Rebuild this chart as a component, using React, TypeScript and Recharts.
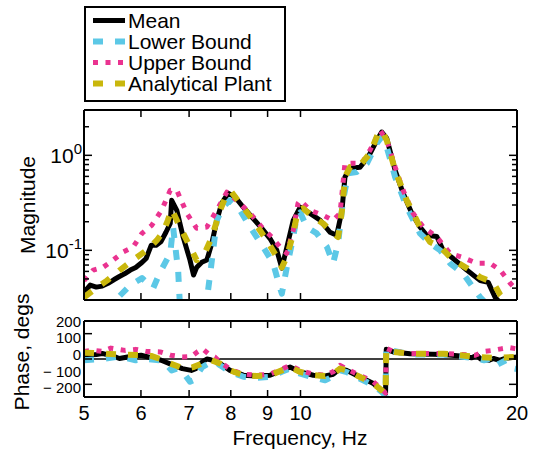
import React from 'react';
import { LineChart, Line, XAxis, YAxis, Legend, ReferenceLine, Label } from 'recharts';

const FONT = '"Liberation Sans", Arial, Helvetica, sans-serif';

// ---------- series meta ----------
const seriesNames = ['Mean', 'Lower Bound', 'Upper Bound', 'Analytical Plant'];
const seriesColors = ['#000000', '#5cc8e6', '#ea3390', '#c9b70c'];
const seriesWidths = [5, 6, 5, 6];
const seriesDashes = ['', '10 12', '5 7.5', '10 12'];

// ---------- ticks ----------
const freqTicks = [5, 6, 7, 8, 9, 10, 20];
const magTicks = [0.03, 0.04, 0.05, 0.06, 0.07, 0.08, 0.09, 0.1, 0.2, 0.3, 0.4, 0.5, 0.6, 0.7, 0.8, 0.9, 1, 2, 3];
const magLabelValues = [0.1, 1];
const magLabelExponents = ['-1', '0'];
const phaseTickMarks = [-100, 0, 100];
const phaseTickLabels = [-200, -100, 0, 100, 200];

// ---------- magnitude data ----------
const magMeanF = [5.0, 5.1, 5.2, 5.3, 5.4, 5.5, 5.6, 5.7, 5.8, 5.9, 6.0, 6.1, 6.2, 6.3, 6.4, 6.5, 6.59, 6.62, 6.73, 6.87, 7.02, 7.1, 7.17, 7.29, 7.41, 7.53, 7.65, 7.77, 7.93, 8.11, 8.32, 8.59, 8.83, 9.07, 9.27, 9.42, 9.57, 9.77, 9.99, 10.31, 10.65, 10.99, 11.23, 11.42, 11.53, 11.72, 12.1, 12.42, 12.77, 12.97, 13.18, 13.54, 13.89, 14.28, 14.66, 14.98, 15.47, 15.79, 16.3, 17.03, 17.78, 18.24, 18.65, 18.95, 20];
const magMeanV = [0.036, 0.043, 0.041, 0.042, 0.045, 0.049, 0.053, 0.057, 0.062, 0.066, 0.073, 0.082, 0.113, 0.113, 0.124, 0.155, 0.192, 0.336, 0.264, 0.137, 0.079, 0.055, 0.066, 0.075, 0.079, 0.119, 0.207, 0.312, 0.398, 0.364, 0.286, 0.217, 0.171, 0.133, 0.1, 0.065, 0.107, 0.207, 0.285, 0.245, 0.207, 0.155, 0.144, 0.264, 0.59, 0.73, 0.748, 0.96, 1.44, 1.76, 1.51, 0.695, 0.398, 0.245, 0.176, 0.144, 0.14, 0.1, 0.082, 0.062, 0.048, 0.046, 0.032, 0.028, 0.026];

const magLowerF = [5.0, 5.26, 5.49, 5.58, 5.8, 6.02, 6.24, 6.38, 6.59, 6.65, 6.76, 6.8, 7.02, 7.37, 7.49, 7.65, 7.8, 7.98, 8.24, 8.51, 8.87, 9.16, 9.37, 9.42, 9.57, 9.77, 9.88, 9.99, 10.2, 10.53, 10.88, 11.1, 11.28, 11.46, 11.65, 11.97, 12.37, 12.77, 12.97, 13.18, 13.54, 14.05, 14.66, 15.14, 15.64, 16.14, 16.83, 17.49, 17.78, 18.35, 20];
const magLowerV = [0.018, 0.024, 0.029, 0.032, 0.043, 0.051, 0.04, 0.059, 0.093, 0.176, 0.06, 0.025, 0.02, 0.022, 0.057, 0.207, 0.286, 0.336, 0.264, 0.176, 0.109, 0.073, 0.04, 0.035, 0.066, 0.138, 0.228, 0.25, 0.176, 0.151, 0.109, 0.073, 0.119, 0.336, 0.647, 0.667, 0.824, 1.34, 1.56, 1.22, 0.59, 0.286, 0.151, 0.119, 0.1, 0.073, 0.057, 0.038, 0.032, 0.025, 0.02];

const magUpperF = [5.0, 5.15, 5.31, 5.49, 5.67, 5.85, 6.02, 6.21, 6.41, 6.59, 6.73, 6.95, 7.17, 7.41, 7.65, 7.9, 8.15, 8.51, 8.83, 9.12, 9.37, 9.57, 9.77, 9.92, 9.99, 10.31, 10.75, 11.1, 11.35, 11.53, 11.83, 12.17, 12.49, 12.9, 13.18, 13.54, 13.89, 14.34, 14.81, 15.47, 16.14, 16.76, 17.59, 18.35, 18.95, 19.57, 20];
const magUpperV = [0.048, 0.062, 0.066, 0.079, 0.096, 0.108, 0.151, 0.183, 0.264, 0.428, 0.428, 0.245, 0.171, 0.176, 0.264, 0.41, 0.336, 0.245, 0.176, 0.138, 0.108, 0.093, 0.162, 0.312, 0.336, 0.264, 0.234, 0.207, 0.245, 0.824, 0.824, 0.824, 1.13, 1.83, 1.44, 0.753, 0.428, 0.245, 0.176, 0.138, 0.093, 0.085, 0.073, 0.073, 0.062, 0.045, 0.038];

const magPlantF = [5.0, 5.15, 5.38, 5.61, 5.85, 6.11, 6.31, 6.44, 6.54, 6.62, 6.8, 7.02, 7.17, 7.32, 7.53, 7.73, 7.9, 8.02, 8.24, 8.59, 8.98, 9.27, 9.42, 9.57, 9.77, 9.92, 10.08, 10.41, 10.75, 11.1, 11.28, 11.42, 11.53, 11.72, 12.1, 12.49, 12.82, 12.97, 13.18, 13.54, 14.05, 14.66, 15.14, 15.64, 16.3, 17.03, 17.78, 18.53, 18.95, 19.36, 20];
const magPlantV = [0.032, 0.038, 0.048, 0.062, 0.079, 0.1, 0.127, 0.156, 0.207, 0.27, 0.176, 0.109, 0.079, 0.085, 0.138, 0.264, 0.398, 0.41, 0.312, 0.207, 0.127, 0.085, 0.066, 0.085, 0.151, 0.264, 0.277, 0.224, 0.192, 0.151, 0.138, 0.264, 0.59, 0.753, 0.785, 1.05, 1.7, 1.83, 1.44, 0.695, 0.336, 0.176, 0.122, 0.109, 0.079, 0.065, 0.052, 0.046, 0.034, 0.028, 0.025];

// ---------- phase data ----------
const phMeanF = [5.0, 5.2, 5.3, 5.5, 5.6, 5.8, 6.0, 6.2, 6.4, 6.6, 6.85, 7.05, 7.15, 7.3, 7.41, 7.5, 7.73, 7.98, 8.33, 8.69, 9.07, 9.42, 9.67, 9.99, 10.42, 10.82, 11.11, 11.35, 11.6, 12.1, 12.63, 12.97, 13.13, 13.16, 13.46, 14.2, 15.8, 16.67, 17.3, 17.59, 17.8, 18.3, 18.55, 18.9, 19.3, 20];
const phMeanV = [15, 18, 22, 10, 2, 10, 15, 5, -5, -20, -38, -45, -38, -12, 0, -3, -18, -45, -64, -67, -64, -45, -32, -51, -64, -67, -60, -38, -45, -71, -97, -124, -137, 38, 28, 21, 18, 12, 5, 15, 0, -5, 2, -5, 3, 8];

const phLowerF = [5.0, 5.3, 5.6, 5.9, 6.1, 6.38, 6.45, 6.62, 6.73, 6.9, 7.02, 7.1, 7.3, 7.45, 7.6, 7.73, 7.98, 8.33, 8.69, 9.07, 9.42, 9.67, 9.99, 10.42, 10.82, 11.11, 11.35, 11.6, 12.1, 12.63, 12.97, 13.13, 13.16, 13.46, 14.2, 15.8, 16.67, 17.59, 18.0, 18.3, 18.6, 18.9, 19.3, 19.6, 20];
const phLowerV = [-5, 0, 10, -5, 0, -5, -10, -45, -38, -60, -90, -84, -32, -18, -8, -25, -50, -70, -74, -71, -50, -38, -58, -72, -84, -68, -45, -52, -78, -104, -130, -145, 45, 32, 18, 18, 10, 2, -5, 0, -30, -18, -5, -35, -40];

const phUpperF = [5.0, 5.15, 5.3, 5.45, 5.7, 5.9, 6.1, 6.38, 6.6, 6.85, 7.05, 7.2, 7.3, 7.45, 7.6, 7.73, 7.98, 8.33, 8.69, 9.07, 9.42, 9.67, 9.99, 10.42, 10.82, 11.11, 11.35, 11.6, 12.1, 12.63, 12.97, 13.13, 13.16, 13.46, 14.2, 15.8, 16.67, 17.5, 18.0, 18.5, 19.0, 19.5, 20];
const phUpperV = [30, 34, 30, 43, 34, 38, 30, 28, 15, 8, 10, 30, 41, 20, 8, -12, -40, -60, -64, -60, -40, -25, -45, -60, -64, -50, -25, -40, -65, -90, -118, -135, 42, 30, 22, 22, 18, 15, 30, 34, 40, 45, 40];

const phPlantF = [5.0, 5.3, 5.6, 6.0, 6.2, 6.38, 6.59, 6.8, 6.94, 7.09, 7.29, 7.49, 7.73, 7.98, 8.33, 8.69, 9.07, 9.42, 9.67, 9.99, 10.42, 10.82, 11.11, 11.35, 11.6, 12.1, 12.63, 12.97, 13.13, 13.16, 13.46, 14.2, 15.8, 16.67, 17.59, 18.55, 20];
const phPlantV = [25, 22, 18, 15, 12, 0, -18, -32, -38, -32, -18, -3, -18, -45, -64, -67, -64, -45, -32, -51, -64, -67, -58, -38, -45, -71, -97, -124, -137, 38, 28, 21, 21, 15, 8, 5, 8];

const toRows = (f: number[], v: number[]) => f.map((x, i) => ({ f: x, v: v[i] }));

const magSeries = [
  toRows(magMeanF, magMeanV),
  toRows(magLowerF, magLowerV),
  toRows(magUpperF, magUpperV),
  toRows(magPlantF, magPlantV),
];
const phaseSeries = [
  toRows(phMeanF, phMeanV),
  toRows(phLowerF, phLowerV),
  toRows(phUpperF, phUpperV),
  toRows(phPlantF, phPlantV),
];

const AXIS_LINE = { stroke: '#000', strokeWidth: 2 };

// ---------- custom ticks (inward, MATLAB style) ----------
const FreqTick = (p: any) => {
  const { x, y, payload, side, showLabel } = p;
  const dir = side === 'bottom' ? -1 : 1;
  return (
    <g>
      <line x1={x} x2={x} y1={y} y2={y + dir * 7} stroke="#000" strokeWidth={1.5} />
      {showLabel && (
        <text x={x} y={y + 9} dy="0.71em" textAnchor="middle" fontSize={20} fontFamily={FONT} fill="#000">
          {payload.value}
        </text>
      )}
    </g>
  );
};

const MagTick = (p: any) => {
  const { x, y, payload, side } = p;
  const idx = magLabelValues.findIndex((m) => Math.abs(m - payload.value) < 1e-9);
  const major = idx >= 0;
  const len = major ? 8 : 5;
  const dir = side === 'left' ? 1 : -1;
  return (
    <g>
      <line x1={x} x2={x + dir * len} y1={y} y2={y} stroke="#000" strokeWidth={1.5} />
      {side === 'left' && major && (
        <text x={x - 2} y={y} dy="0.355em" textAnchor="end" fontSize={21} fontFamily={FONT} fill="#000">
          10
          <tspan dy={-9} fontSize={15}>{magLabelExponents[idx]}</tspan>
        </text>
      )}
    </g>
  );
};

const PhaseTick = (p: any) => {
  const { x, y, side } = p;
  const dir = side === 'left' ? 1 : -1;
  return <line x1={x} x2={x + dir * 8} y1={y} y2={y} stroke="#000" strokeWidth={1.5} />;
};

const phaseLabelFormat = (v: number) => (v < 0 ? `\u2212 ${Math.abs(v)}` : `${v}`);

const RotLabel = (text: string, cx: number, cy: number) => () =>
  (
    <text
      x={cx}
      y={cy}
      transform={`rotate(-90 ${cx} ${cy})`}
      textAnchor="middle"
      dominantBaseline="central"
      fontSize={21}
      fontFamily={FONT}
      fill="#000"
    >
      {text}
    </text>
  );

const FreqLabel = () => (
  <text x={300} y={175} textAnchor="middle" fontSize={21} fontFamily={FONT} fill="#000">
    Frequency, Hz
  </text>
);

const LegendBox = () => (
  <div
    style={{
      boxSizing: 'border-box',
      width: 202,
      height: 96,
      border: '2px solid #000',
      background: '#fff',
      paddingTop: 1.5,
    }}
  >
    {seriesNames.map((n, i) => (
      <div key={n} style={{ height: 21, display: 'flex', alignItems: 'center' }}>
        <svg width={42} height={21} style={{ display: 'block', flex: 'none' }}>
          <line
            x1={7}
            x2={39}
            y1={10.5}
            y2={10.5}
            stroke={seriesColors[i]}
            strokeWidth={seriesWidths[i]}
            strokeDasharray={seriesDashes[i] || undefined}
          />
        </svg>
        <span style={{ fontSize: 21, fontFamily: FONT, lineHeight: '21px', color: '#000', whiteSpace: 'nowrap' }}>{n}</span>
      </div>
    ))}
  </div>
);

export default function App() {
  return (
    <div style={{ position: 'absolute', left: 0, top: 0, width: 534, height: 453, background: '#fff', fontFamily: FONT }}>
      <div style={{ position: 'absolute', left: 0, top: 0 }}>
        <LineChart width={534} height={310} margin={{ top: 109, right: 16, bottom: 9, left: 0 }}>
          <XAxis
            xAxisId="b"
            type="number"
            dataKey="f"
            scale="log"
            domain={[5, 20]}
            allowDataOverflow
            ticks={freqTicks}
            interval={0}
            height={1}
            tickLine={false}
            tickSize={0}
            tickMargin={0}
            axisLine={AXIS_LINE}
            tick={(p: any) => <FreqTick {...p} side="bottom" showLabel={false} />}
          />
          <XAxis
            xAxisId="t"
            orientation="top"
            type="number"
            dataKey="f"
            scale="log"
            domain={[5, 20]}
            allowDataOverflow
            ticks={freqTicks}
            interval={0}
            height={1}
            tickLine={false}
            tickSize={0}
            tickMargin={0}
            axisLine={AXIS_LINE}
            tick={(p: any) => <FreqTick {...p} side="top" showLabel={false} />}
          />
          <YAxis
            yAxisId="m"
            type="number"
            scale="log"
            domain={[0.03, 3]}
            allowDataOverflow
            ticks={magTicks}
            interval={0}
            width={84}
            tickLine={false}
            tickSize={0}
            tickMargin={0}
            axisLine={AXIS_LINE}
            tick={(p: any) => <MagTick {...p} side="left" />}
            label={<Label content={RotLabel('Magnitude', 27, 205)} />}
          />
          <YAxis
            yAxisId="mr"
            orientation="right"
            type="number"
            scale="log"
            domain={[0.03, 3]}
            allowDataOverflow
            ticks={magTicks}
            interval={0}
            width={1}
            tickLine={false}
            tickSize={0}
            tickMargin={0}
            axisLine={AXIS_LINE}
            tick={(p: any) => <MagTick {...p} side="right" />}
          />
          <Legend
            layout="vertical"
            align="center"
            verticalAlign="middle"
            wrapperStyle={{ left: 84, top: 6, width: 202, height: 96 }}
            content={() => <LegendBox />}
          />
          {magSeries.map((rows, i) => (
            <Line
              key={seriesNames[i]}
              name={seriesNames[i]}
              data={rows}
              dataKey="v"
              xAxisId="b"
              yAxisId="m"
              type="linear"
              stroke={seriesColors[i]}
              strokeWidth={seriesWidths[i]}
              strokeDasharray={seriesDashes[i] || undefined}
              strokeLinejoin="round"
              dot={false}
              activeDot={false}
              isAnimationActive={false}
            />
          ))}
        </LineChart>
      </div>
      <div style={{ position: 'absolute', left: 0, top: 270 }}>
        <LineChart width={534} height={183} margin={{ top: 50, right: 16, bottom: 0, left: 0 }}>
          <XAxis
            xAxisId="b"
            type="number"
            dataKey="f"
            scale="log"
            domain={[5, 20]}
            allowDataOverflow
            ticks={freqTicks}
            interval={0}
            height={56}
            tickLine={false}
            tickSize={0}
            tickMargin={0}
            axisLine={AXIS_LINE}
            tick={(p: any) => <FreqTick {...p} side="bottom" showLabel />}
            label={<Label content={FreqLabel} />}
          />
          <XAxis
            xAxisId="t"
            orientation="top"
            type="number"
            dataKey="f"
            scale="log"
            domain={[5, 20]}
            allowDataOverflow
            ticks={freqTicks}
            interval={0}
            height={1}
            tickLine={false}
            tickSize={0}
            tickMargin={0}
            axisLine={AXIS_LINE}
            tick={(p: any) => <FreqTick {...p} side="top" showLabel={false} />}
          />
          <YAxis
            yAxisId="p"
            mirror
            type="number"
            domain={[-150, 150]}
            allowDataOverflow
            ticks={phaseTickMarks}
            interval={0}
            width={1}
            tickLine={false}
            tickSize={0}
            tickMargin={0}
            axisLine={AXIS_LINE}
            tick={(p: any) => <PhaseTick {...p} side="left" />}
          />
          <YAxis
            yAxisId="pl"
            type="number"
            domain={[-254, 202]}
            allowDataOverflow
            ticks={phaseTickLabels}
            interval={0}
            width={84}
            tickLine={false}
            axisLine={false}
            tickSize={0}
            tickMargin={3}
            tickFormatter={phaseLabelFormat}
            tick={{ fontSize: 15, fill: '#000', fontFamily: FONT }}
            label={<Label content={RotLabel('Phase, degs', 21, 82)} />}
          />
          <YAxis
            yAxisId="pr"
            orientation="right"
            type="number"
            domain={[-150, 150]}
            allowDataOverflow
            ticks={phaseTickMarks}
            interval={0}
            width={1}
            tickLine={false}
            tickSize={0}
            tickMargin={0}
            axisLine={AXIS_LINE}
            tick={(p: any) => <PhaseTick {...p} side="right" />}
          />
          <ReferenceLine y={0} yAxisId="p" xAxisId="b" stroke="#000" strokeWidth={1.5} />
          {phaseSeries.map((rows, i) => (
            <Line
              key={seriesNames[i]}
              name={seriesNames[i]}
              data={rows}
              dataKey="v"
              xAxisId="b"
              yAxisId="p"
              type="linear"
              stroke={seriesColors[i]}
              strokeWidth={seriesWidths[i]}
              strokeDasharray={seriesDashes[i] || undefined}
              strokeLinejoin="round"
              dot={false}
              activeDot={false}
              isAnimationActive={false}
            />
          ))}
        </LineChart>
      </div>
    </div>
  );
}
